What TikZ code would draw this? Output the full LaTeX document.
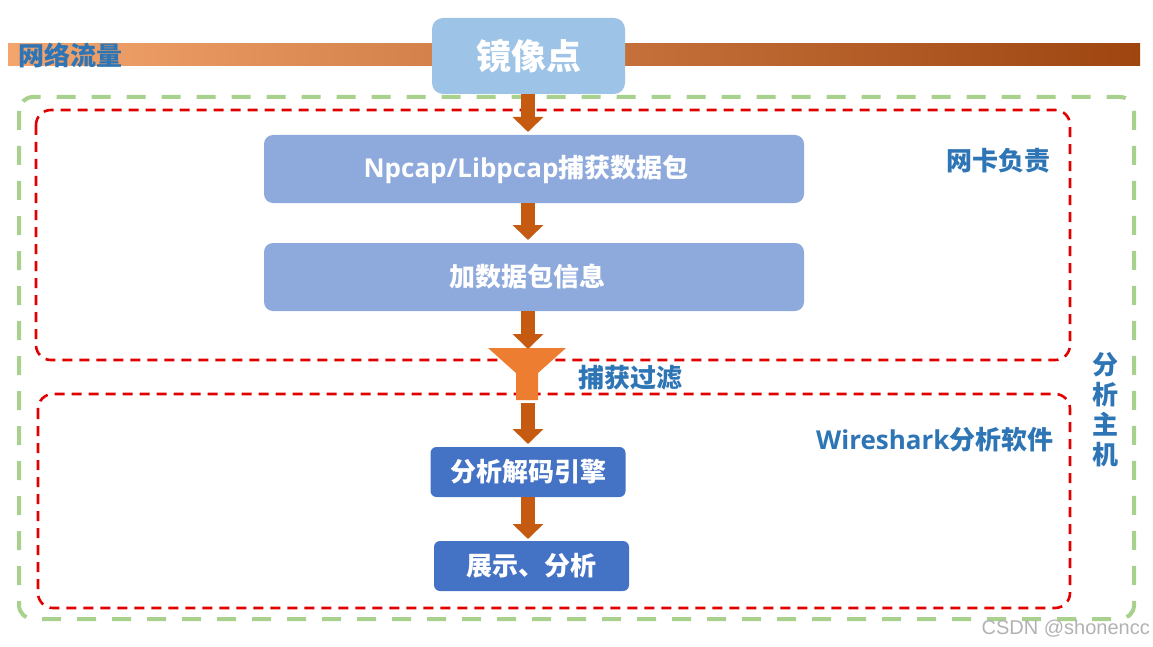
\documentclass[tikz,border=0pt]{standalone}
\usepackage{fontspec}
\usetikzlibrary{arrows.meta}
\newfontfamily\cjk{Noto Sans CJK SC}
\newfontfamily\latf{Open Sans}
\newfontfamily\wmf{Liberation Sans}
\definecolor{txtblue}{HTML}{2E75B6}
\definecolor{lightbox}{HTML}{9DC3E6}
\definecolor{midbox}{HTML}{8EA9DB}
\definecolor{darkbox}{HTML}{4472C4}
\definecolor{arrowc}{HTML}{C55A11}
\definecolor{funnelc}{HTML}{ED7D31}
\definecolor{greenc}{HTML}{A9D18E}
\definecolor{redc}{HTML}{E00000}
\definecolor{barl}{HTML}{F4A56E}
\definecolor{barm}{HTML}{EB7A2C}
\definecolor{barr}{HTML}{9E4510}
\tikzset{
  cn/.style={font=\cjk\bfseries\fontsize{26}{30}\selectfont},
  midbox/.style={cn, fill=midbox, text=white, rounded corners=9pt, minimum width=540pt, minimum height=68pt, inner sep=0pt},
  darkbox/.style={cn, fill=darkbox, text=white, rounded corners=6pt, minimum width=195pt, minimum height=50pt, inner sep=0pt},
  lbl/.style={cn, text=txtblue, inner sep=0pt},
  blockarrow/.style={draw=arrowc, line width=14pt, -{Triangle[width=30pt,length=15pt]}, color=arrowc},
}
\begin{document}
\begin{tikzpicture}[x=1pt,y=-1pt]
\useasboundingbox (0,0) rectangle (1153,647);
% flow bar
\shade[left color=barl, middle color=barm, right color=barr] (8,44) rectangle (1140,66);
\node[lbl, anchor=west] (flow) at (18,55) {网络流量};
% dashed frames
\draw[greenc, line width=4pt, dash pattern=on 19pt off 16pt, rounded corners=14pt] (19,97) rectangle (1134,619);
\draw[redc, line width=2.6pt, dash pattern=on 10pt off 7pt, rounded corners=15pt] (36,110) rectangle (1070,360);
\draw[redc, line width=2.6pt, dash pattern=on 10pt off 7pt, rounded corners=15pt] (38,394) rectangle (1070,608);
% boxes
\node[cn, fill=lightbox, text=white, rounded corners=11pt, minimum width=193pt, minimum height=76pt, inner sep=0pt, font=\cjk\bfseries\fontsize{35}{40}\selectfont] (mirror) at (528.5,56) {镜像点};
\node[midbox] (cap) at (534,169) {{\latf\bfseries Npcap/Libpcap}捕获数据包\hspace*{16pt}};
\node[midbox] (info) at (534,277) {加数据包信息\hspace*{14pt}};
\node[darkbox] (engine) at (528,472) {分析解码引擎};
\node[darkbox] (show) at (531.5,566) {展示、分析};
% funnel
\fill[funnelc] (488,348) -- (566,348) -- (538,373) -- (538,400) -- (516,400) -- (516,373) -- cycle;
\coordinate (ftop) at (528,349);
\coordinate (fbot) at (528,403);
% arrows
\draw[blockarrow] (mirror.south -| 528,0) -- (528,132);
\draw[blockarrow] (cap.south -| ftop) -- (ftop |- 0,240);
\draw[blockarrow] (info.south -| ftop) -- (ftop);
\draw[blockarrow] (fbot) -- (fbot |- 0,444);
\draw[blockarrow] (engine.south) -- (engine.south |- 0,539);
% labels
\node[lbl, anchor=west] (filter) at (578,378) {捕获过滤};
\node[lbl, anchor=west] (nic) at (946,161) {网卡负责};
\node[lbl, anchor=west] (ws) at (816,440) {{\latf\bfseries Wireshark}分析软件};
\node[lbl, align=center, font=\cjk\bfseries\fontsize{26}{30}\selectfont] (host) at (1105,410) {分\\析\\主\\机};
\node[font=\wmf\fontsize{20}{22}\selectfont, text=black!30, anchor=east, inner sep=0pt] (wm) at (1150,629) {CSDN @shonencc};
\end{tikzpicture}
\end{document}
